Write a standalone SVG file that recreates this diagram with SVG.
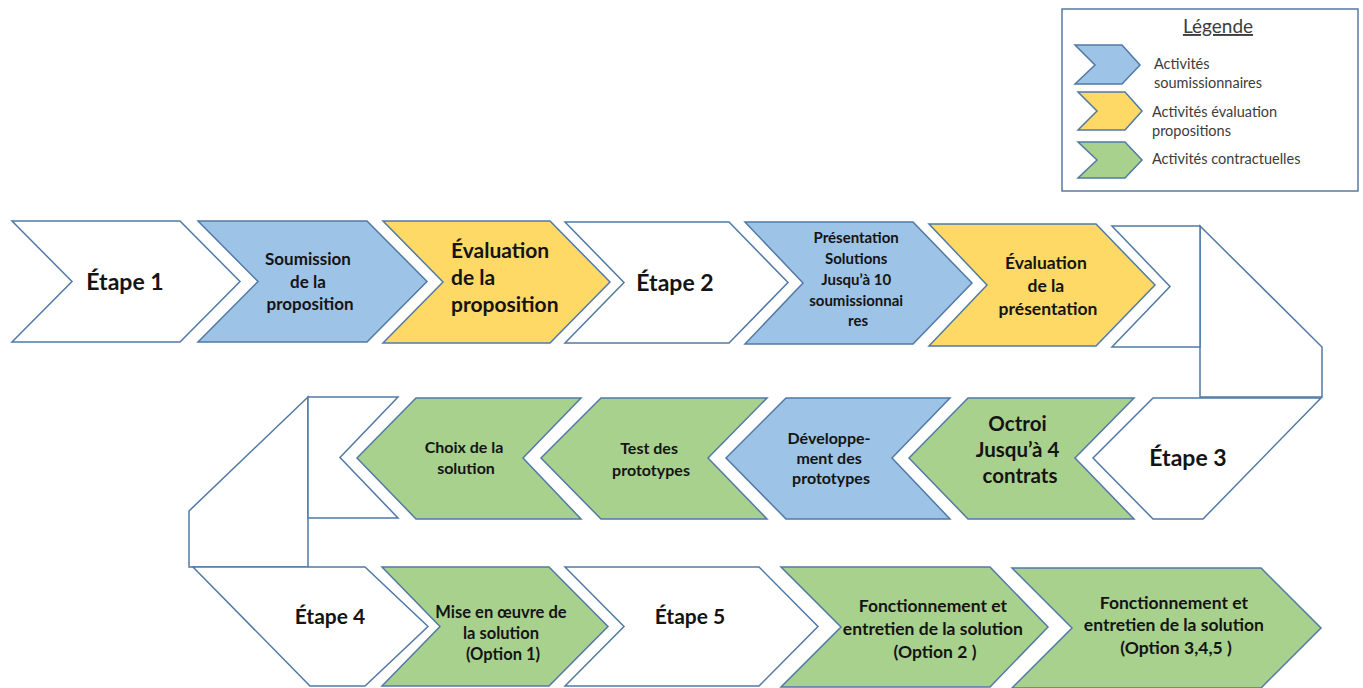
<svg xmlns="http://www.w3.org/2000/svg" width="1363" height="688" viewBox="0 0 1363 688">
  <style>
    .shape { stroke: #5079a6; stroke-width: 1.5; stroke-linejoin: miter; }
    .white { fill: #ffffff; }
    .blue { fill: #9dc3e6; }
    .yellow { fill: #ffd966; }
    .green { fill: #a9d18e; }
    .lbl { font-family: Lato, "Liberation Sans", sans-serif; font-weight: 700; fill: #141414; text-anchor: middle; }
    .step { font-size: 23px; }
    .leg { font-family: Lato, "Liberation Sans", sans-serif; font-size: 14.5px; fill: #3c3c3c; }
    .leg-title { font-family: Lato, "Liberation Sans", sans-serif; font-size: 19px; fill: #3c3c3c; text-anchor: middle; text-decoration: underline; }
  </style>
  <rect width="1363" height="688" fill="#ffffff"/>

  <!-- Legend -->
  <g id="legend">
    <rect x="1062" y="9" width="296" height="182" fill="#ffffff" stroke="#5a7aa0" stroke-width="1.5"/>
    <text x="1218" y="33" class="leg-title">Légende</text>
    <polygon class="shape blue" points="1075,45 1122,45 1140,65 1122,84 1075,84 1095,65"/>
    <polygon class="shape yellow" points="1078,92 1125,92 1142,111 1125,130 1078,130 1097,111"/>
    <polygon class="shape green" points="1078,142 1125,142 1142,160 1125,178 1078,178 1097,160"/>
    <text class="leg" x="1154" y="69">Activités</text>
    <text class="leg" x="1154" y="88">soumissionnaires</text>
    <text class="leg" x="1152" y="117">Activités évaluation</text>
    <text class="leg" x="1152" y="136">propositions</text>
    <text class="leg" x="1152" y="164">Activités contractuelles</text>
  </g>

  <!-- Row 1: left to right -->
  <g id="etape1">
    <polygon class="shape white" points="12,221 180,221 240,281.5 180,342 12,342 72,281.5"/>
    <text class="lbl step" x="125" y="290">Étape 1</text>
  </g>
  <g id="soumission">
    <polygon class="shape blue" points="198,221 367,221 427,281.5 367,342 198,342 258,281.5"/>
    <text class="lbl" font-size="17">
      <tspan x="310" y="265">Soumission</tspan>
      <tspan x="310" y="288">de la</tspan>
      <tspan x="310" y="310">proposition</tspan>
    </text>
  </g>
  <g id="evaluation-proposition">
    <polygon class="shape yellow" points="383,221 550,221 610,282 550,343 383,343 443,282"/>
    <text class="lbl" font-size="21" style="text-anchor:start">
      <tspan x="451" y="258">Évaluation</tspan>
      <tspan x="451" y="285">de la</tspan>
      <tspan x="451" y="312">proposition</tspan>
    </text>
  </g>
  <g id="etape2">
    <polygon class="shape white" points="565,222 729,222 788,282.5 729,343 565,343 624,282.5"/>
    <text class="lbl step" x="675" y="291">Étape 2</text>
  </g>
  <g id="presentation">
    <polygon class="shape blue" points="745,222 913,222 972,283 913,344 745,344 803,283"/>
    <text class="lbl" font-size="15">
      <tspan x="858" y="243">Présentation</tspan>
      <tspan x="858" y="264">Solutions</tspan>
      <tspan x="858" y="285">Jusqu’à 10</tspan>
      <tspan x="858" y="306">soumissionnai</tspan>
      <tspan x="858" y="326">res</tspan>
    </text>
  </g>
  <g id="evaluation-presentation">
    <polygon class="shape yellow" points="929,224 1096,224 1155,285 1096,346 929,346 987,285"/>
    <text class="lbl" font-size="17.5">
      <tspan x="1048" y="269">Évaluation</tspan>
      <tspan x="1048" y="292">de la</tspan>
      <tspan x="1048" y="315">présentation</tspan>
    </text>
  </g>

  <!-- Right-hand turn -->
  <g id="turn-right">
    <polygon class="shape white" points="1200,226 1322,347 1322,397 1200,397"/>
    <polygon class="shape white" points="1112,226 1200,226 1200,347 1112,347 1170,286.5"/>
  </g>

  <!-- Row 2: right to left -->
  <g id="etape3">
    <polygon class="shape white" points="1093,458 1153,398 1321,398 1203,519 1153,519"/>
    <text class="lbl step" x="1188" y="466">Étape 3</text>
  </g>
  <g id="octroi">
    <polygon class="shape green" points="909,458 968,398 1134,398 1075,458 1134,519 968,519"/>
    <text class="lbl" font-size="20.5">
      <tspan x="1020" y="431">Octroi</tspan>
      <tspan x="1020" y="457">Jusqu’à 4</tspan>
      <tspan x="1020" y="483">contrats</tspan>
    </text>
  </g>
  <g id="developpement">
    <polygon class="shape blue" points="726,458 786,398 950,398 892,458 950,519 786,519"/>
    <text class="lbl" font-size="16">
      <tspan x="831" y="444">Développe-</tspan>
      <tspan x="831" y="464">ment des</tspan>
      <tspan x="831" y="484">prototypes</tspan>
    </text>
  </g>
  <g id="test">
    <polygon class="shape green" points="541,458 601,398 767,398 708,458 767,519 601,519"/>
    <text class="lbl" font-size="16">
      <tspan x="651" y="454">Test des</tspan>
      <tspan x="651" y="476">prototypes</tspan>
    </text>
  </g>
  <g id="choix">
    <polygon class="shape green" points="357,458 416,398 581,398 523,458 581,519 416,519"/>
    <text class="lbl" font-size="16">
      <tspan x="466" y="453">Choix de la</tspan>
      <tspan x="466" y="474">solution</tspan>
    </text>
  </g>

  <!-- Left-hand turn -->
  <g id="turn-left">
    <polygon class="shape white" points="308,397 189,511 189,567 308,567"/>
    <polygon class="shape white" points="308,397 398,397 340,457.5 398,518 308,518"/>
  </g>

  <!-- Row 3: left to right -->
  <g id="etape4">
    <polygon class="shape white" points="193,567 365,567 428,626.5 365,686 310,686"/>
    <text class="lbl" font-size="21" x="330" y="624">Étape 4</text>
  </g>
  <g id="mise-en-oeuvre">
    <polygon class="shape green" points="382,567 549,567 608,626.5 549,686 382,686 440,626.5"/>
    <text class="lbl" font-size="16.5">
      <tspan x="503" y="618">Mise en œuvre de</tspan>
      <tspan x="503" y="639">la solution</tspan>
      <tspan x="503" y="660">(Option 1)</tspan>
    </text>
  </g>
  <g id="etape5">
    <polygon class="shape white" points="565,567 759,567 818,626.5 759,686 565,686 624,626.5"/>
    <text class="lbl" font-size="21" x="690" y="624">Étape 5</text>
  </g>
  <g id="fonctionnement-option2">
    <polygon class="shape green" points="781,567 990,567 1048,627 990,687 781,687 841,627"/>
    <text class="lbl" font-size="17.5">
      <tspan x="935" y="612">Fonctionnement et</tspan>
      <tspan x="935" y="635">entretien de la solution</tspan>
      <tspan x="935" y="658">(Option 2  )</tspan>
    </text>
  </g>
  <g id="fonctionnement-option345">
    <polygon class="shape green" points="1012,568 1261,568 1321,628 1261,688 1012,688 1072,628"/>
    <text class="lbl" font-size="17.5">
      <tspan x="1176" y="609">Fonctionnement et</tspan>
      <tspan x="1176" y="631">entretien de la solution</tspan>
      <tspan x="1176" y="654">(Option 3,4,5 )</tspan>
    </text>
  </g>
</svg>
